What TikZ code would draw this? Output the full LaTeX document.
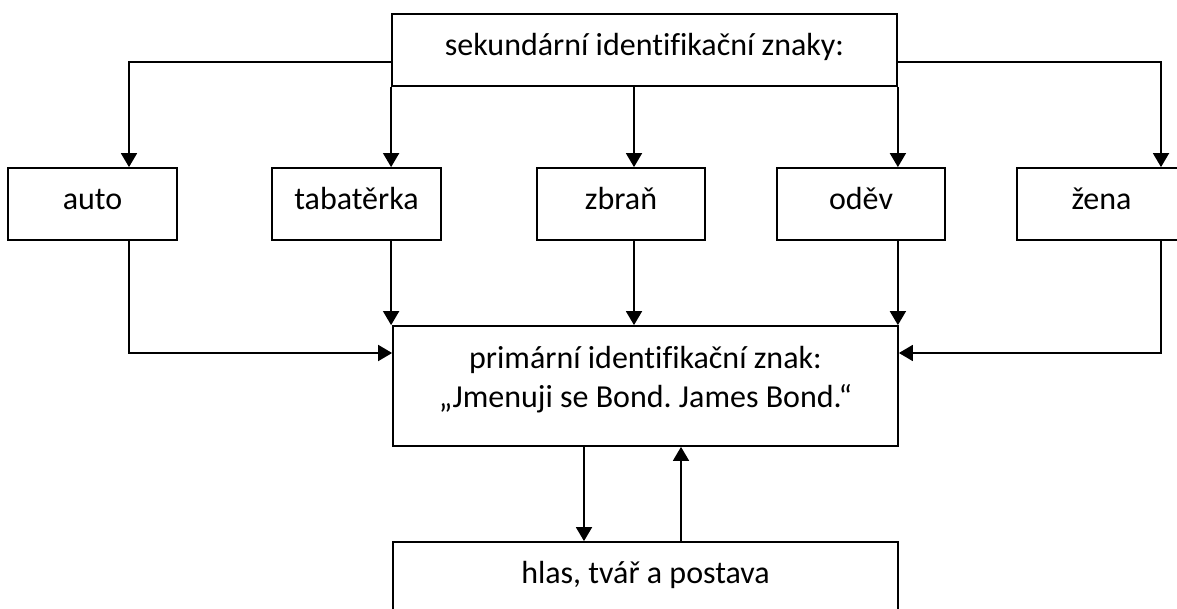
\documentclass[tikz,border=0pt]{standalone}
\usepackage{fontspec}
\setmainfont[Ligatures=NoCommon]{Carlito}
\usetikzlibrary{arrows.meta}
\frenchspacing
\begin{document}
\begin{tikzpicture}[x=1pt,y=-1pt,
  box/.style={draw,line width=1.8pt,minimum height=72pt,inner sep=0pt,text height=20pt,text depth=8pt,font=\fontsize{32}{39}\selectfont},
  txt/.style={inner sep=0pt,anchor=base,font=\fontsize{32}{39}\selectfont},
  conn/.style={line width=1.8pt},
  arr/.style={conn,-{Triangle[width=16pt,length=14pt]}}]
\clip (0,0) rectangle (1177,609);
\fill[white] (0,0) rectangle (1177,609);
\node[box,minimum width=505pt] (top) at (644.5,50) {sekundární identifikační znaky:};
\node[box,minimum width=169pt] (auto) at (92.5,204) {auto};
\node[box,minimum width=169pt] (tab) at (356.5,204) {tabatěrka};
\node[box,minimum width=168pt] (zbran) at (621,204) {zbraň};
\node[box,minimum width=168pt] (odev) at (861,204) {oděv};
\node[box,minimum width=169pt] (zena) at (1101.5,204) {žena};
\node[box,minimum width=505pt,minimum height=120pt,text height=,text depth=] (prim) at (645.5,386) {};
\node[txt] (primtxta) at (645.5,368) {primární identifikační znak:};
\node[txt] (primtxtb) at (645.5,407) {„Jmenuji se Bond. James Bond.“};
\node[box,minimum width=505pt,minimum height=80pt,text height=,text depth=] (hlas) at (645.5,582) {};
\node[txt] (hlastxt) at (645.5,583) {hlas, tvář a postava};
% from top box
\draw[arr] ([yshift=-12pt]top.west) -| ([xshift=36.5pt]auto.north);
\draw[arr] (top.south west) -- (top.south west |- tab.north);
\draw[arr] ([xshift=13pt]zbran.north |- top.south) -- ([xshift=13pt]zbran.north);
\draw[arr] (top.south east) -- (top.south east |- odev.north);
\draw[arr] ([yshift=-12pt]top.east) -| ([xshift=59.5pt]zena.north);
% to primary
\draw[arr] ([xshift=36.5pt]auto.south) |- ([yshift=33pt]prim.west);
\draw[arr] (top.south west |- tab.south) -- (top.south west |- prim.north);
\draw[arr] ([xshift=13pt]zbran.south) -- ([xshift=13pt]zbran.south |- prim.north);
\draw[arr] (top.south east |- odev.south) -- (top.south east |- prim.north);
\draw[arr] ([xshift=59.5pt]zena.south) |- ([yshift=33pt]prim.east);
% primary <-> bottom
\draw[arr] ([xshift=-61.5pt]prim.south) -- ([xshift=-61.5pt]hlas.north);
\draw[arr] ([xshift=35.5pt]hlas.north) -- ([xshift=35.5pt]prim.south);
\end{tikzpicture}
\end{document}
